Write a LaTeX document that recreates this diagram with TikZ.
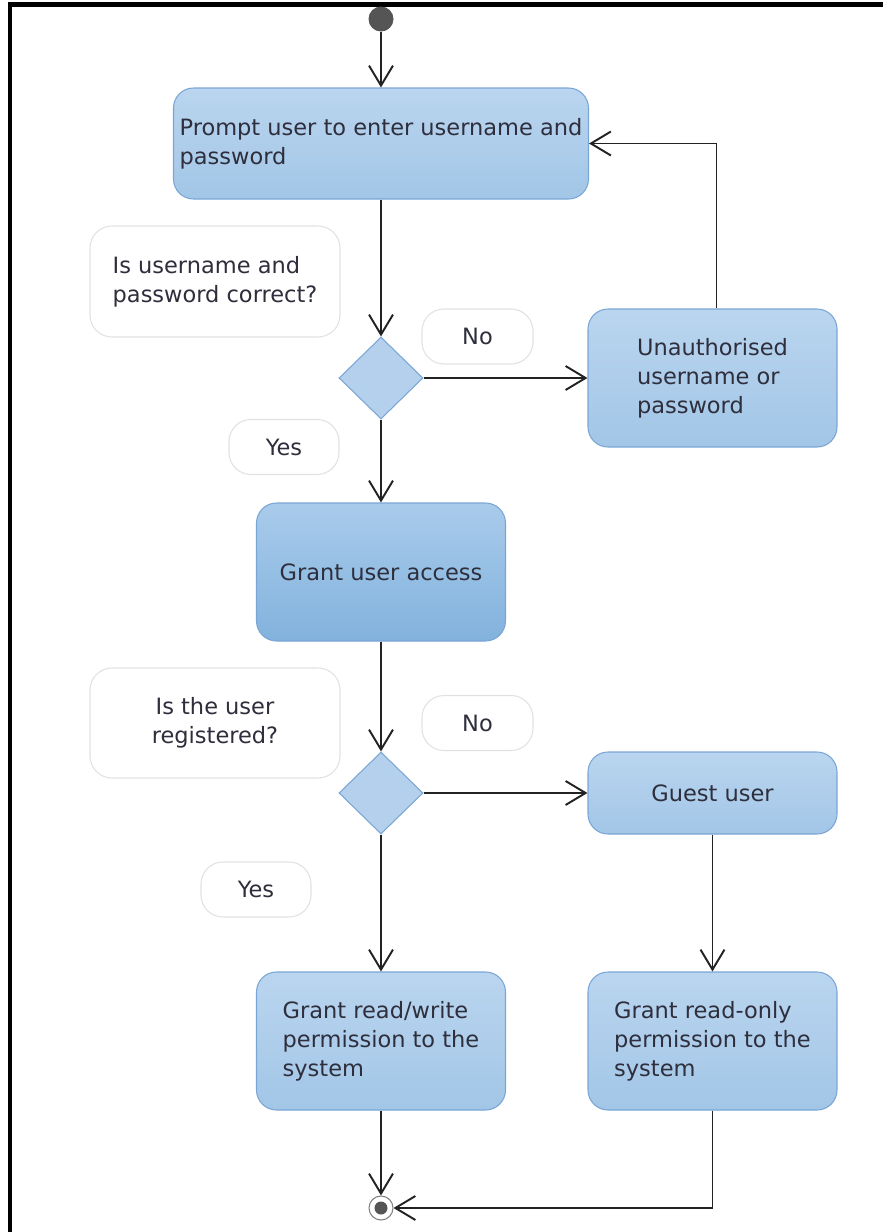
\documentclass[tikz,border=0pt]{standalone}
\usepackage{fontspec}
\setmainfont{DejaVu Sans}
\usetikzlibrary{shapes.geometric,arrows.meta}
\newlength\pxl \setlength\pxl{0.02cm}
\definecolor{txt}{HTML}{2E2E3C}
\definecolor{boxline}{HTML}{7AA6D6}
\definecolor{lighttop}{HTML}{BAD5EF}
\definecolor{lightbot}{HTML}{A2C6E7}
\definecolor{midtop}{HTML}{A9CBEB}
\definecolor{midbot}{HTML}{82B2DD}
\definecolor{dfill}{HTML}{B4D0EC}
\definecolor{noteline}{HTML}{E2E2E2}
\definecolor{flowc}{HTML}{222222}
\definecolor{dot}{HTML}{555555}
\tikzset{
  act/.style={draw=boxline, line width=0.6pt, rounded corners=20\pxl, inner sep=0pt,
    text=txt, top color=lighttop, bottom color=lightbot, minimum width=249\pxl},
  actmid/.style={act, top color=midtop, bottom color=midbot},
  note/.style={draw=noteline, line width=0.6pt, rounded corners=22\pxl, fill=white,
    text=txt, inner sep=0pt},
  lbl/.style={note, minimum width=111\pxl, minimum height=55\pxl},
  dec/.style={diamond, draw=boxline, line width=0.6pt, fill=dfill, inner sep=0pt,
    minimum width=84\pxl, minimum height=82\pxl},
  flow/.style={line width=1.1pt, draw=flowc,
    -{Straight Barb[length=4mm,width=4.8mm,line width=1.1pt]}},
}
\begin{document}
\begin{tikzpicture}[x=0.02cm,y=-0.02cm, font=\fontsize{12.8}{16.6}\selectfont]
\useasboundingbox (0,0) rectangle (883,1232);
\fill[white] (0,0) rectangle (883,1232);
\draw[line width=4.4\pxl, line join=miter] (10,1232) -- (10,4.5) -- (883,4.5);

% nodes
\node[circle, fill=dot, inner sep=0pt, minimum size=25\pxl] (start) at (381,19) {};
\node[act, minimum width=415\pxl, minimum height=111\pxl, align=left] (prompt) at (381,143.5)
  {Prompt user to enter username and\\password};
\node[note, minimum width=250\pxl, minimum height=111\pxl, align=left] (q1) at (215,281.5)
  {Is username and\\password correct?};
\node[dec] (d1) at (381,378) {};
\node[lbl] (no1) at (477.5,336.5) {No};
\node[act, minimum height=138\pxl, align=left] (unauth) at (712.5,378)
  {Unauthorised\\username or\\password};
\node[lbl, minimum width=110\pxl] (yes1) at (284,447) {Yes};
\node[actmid, minimum height=138\pxl, align=center] (grant) at (381,572) {Grant user access};
\node[note, minimum width=250\pxl, minimum height=110\pxl, align=center] (q2) at (215,723)
  {Is the user\\registered?};
\node[dec] (d2) at (381,793) {};
\node[lbl] (no2) at (477.5,723) {No};
\node[act, minimum height=82\pxl, align=center] (guest) at (712.5,793) {Guest user};
\node[lbl, minimum width=110\pxl] (yes2) at (256,889.5) {Yes};
\node[act, minimum height=138\pxl, align=left] (rw) at (381,1041)
  {Grant read/write\\permission to the\\system};
\node[act, minimum height=138\pxl, align=left] (ro) at (712.5,1041)
  {Grant read-only\\permission to the\\system};
\node[circle, draw=gray, line width=0.6pt, fill=white, inner sep=0pt, minimum size=24\pxl]
  (end) at (381,1208) {};
\node[circle, fill=dot, inner sep=0pt, minimum size=13\pxl] (enddot) at (end.center) {};

% connectors
\draw[flow] (start) -- (prompt.north);
\draw[flow] (prompt.south) -- (d1.north);
\draw[flow] (d1.east) -- (unauth.west);
\draw[flow] ([xshift=4\pxl]unauth.north) |- (prompt.east);
\draw[flow] (d1.south) -- (grant.north);
\draw[flow] (grant.south) -- (d2.north);
\draw[flow] (d2.east) -- (guest.west);
\draw[flow] (d2.south) -- (rw.north);
\draw[flow] (guest.south) -- (ro.north);
\draw[flow] (rw.south) -- (end.north);
\draw[flow] (ro.south) |- (end.east);
\end{tikzpicture}
\end{document}
